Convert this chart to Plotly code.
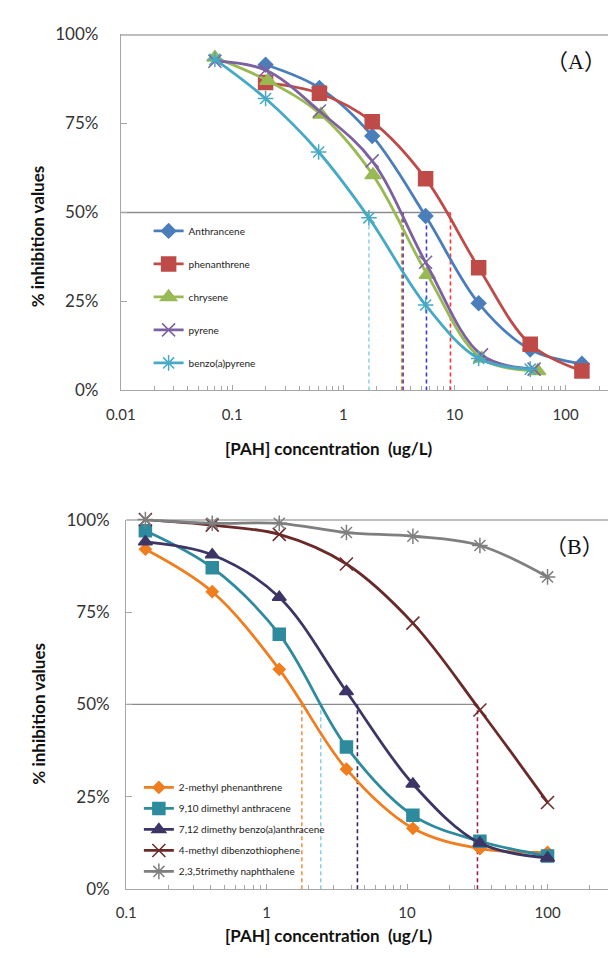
import plotly.graph_objects as go

# ---------------- data: panel A ----------------
names_a = ["Anthrancene", "phenanthrene", "chrysene", "pyrene", "benzo(a)pyrene"]
anth_x = [0.2, 0.61, 1.82, 5.5, 16.5, 48, 140]
anth_y = [91.5, 85, 71.5, 49, 24.5, 11.5, 7.5]
phen_x = [0.2, 0.61, 1.82, 5.5, 16.5, 48, 140]
phen_y = [86.5, 83.5, 75.5, 59.5, 34.5, 13, 5.5]
chry_x = [0.07, 0.21, 0.63, 1.85, 5.7, 17.5, 56]
chry_y = [93.5, 87, 77.5, 60.5, 32.5, 9, 5.5]
pyr_x = [0.07, 0.2, 0.61, 1.82, 5.5, 17.5, 52]
pyr_y = [92.5, 90, 78.5, 64.5, 36, 10, 6]
bap_x = [0.07, 0.2, 0.6, 1.7, 5.5, 16.5, 48]
bap_y = [93, 82, 67, 48.5, 24, 9, 6]
ic50_a = [5.6, 9.2, 3.35, 3.45, 1.7]

# ---------------- data: panel B ----------------
names_b = ["2-methyl phenanthrene", "9,10 dimethyl anthracene",
           "7,12 dimethy benzo(a)anthracene", "4-methyl dibenzothiophene",
           "2,3,5trimethy naphthalene"]
conc_b = [0.137, 0.41, 1.23, 3.7, 11, 33, 100]
mphen_y = [92, 80.5, 59.5, 32.5, 16.5, 11, 10]
dma_y = [97, 87, 69, 38.5, 20, 13, 9]
dmba_y = [94, 90.5, 79, 53.5, 28.5, 12.5, 8.5]
mdbt_y = [100, 98.5, 96, 88, 72, 48.5, 23.5]
tmn_y = [100, 99, 99, 96.5, 95.5, 93, 84.5]
ic50_b = [1.78, 2.43, 4.43, 31.7]

y_ticks = [0, 25, 50, 75, 100]
x_ticks_a = [0.01, 0.1, 1, 10, 100]
x_ticks_b = [0.1, 1, 10, 100]

W, H = 608, 958

def px_x(p):
    return p / W

def px_y(p):
    return (H - p) / H

fig = go.Figure()

# ---- reference lines panel A ----
dash_cols_a = ["#3B3BD0", "#FF3535", "#B0A030", "#7030A0", "#93D3E8"]
fig.add_trace(go.Scatter(x=[0.01, max(ic50_a)], y=[50, 50], mode="lines",
                         line=dict(color="#8C8C8C", width=1.3), showlegend=False,
                         xaxis="x", yaxis="y", hoverinfo="skip"))
for v, c in zip(ic50_a, dash_cols_a):
    fig.add_trace(go.Scatter(x=[v, v], y=[0, 50], mode="lines",
                             line=dict(color=c, width=1.6, dash="4px,3px"),
                             showlegend=False, xaxis="x", yaxis="y", hoverinfo="skip"))

cols_a = ["#4A7EBB", "#BE4B48", "#98B954", "#7D60A0", "#46AAC5"]
sym_a = ["diamond", "square", "triangle-up", "x-thin-open", "asterisk-open"]
size_a = [11, 14, 14, 13, 13]
xs_a = [anth_x, phen_x, chry_x, pyr_x, bap_x]
ys_a = [anth_y, phen_y, chry_y, pyr_y, bap_y]
for i in range(5):
    fig.add_trace(go.Scatter(
        x=xs_a[i], y=ys_a[i], name=names_a[i], mode="lines+markers",
        line=dict(color=cols_a[i], width=2.8, shape="spline", smoothing=1.0),
        marker=dict(symbol=sym_a[i], size=size_a[i], color=cols_a[i],
                    line=dict(color=cols_a[i], width=1.5)),
        xaxis="x", yaxis="y", legend="legend", legendgroup="a%d" % i,
        cliponaxis=False))

# ---- reference lines panel B ----
dash_cols_b = ["#F79646", "#8FD0E6", "#3F1F5F", "#9B2040"]
fig.add_trace(go.Scatter(x=[0.1, max(ic50_b)], y=[50, 50], mode="lines",
                         line=dict(color="#8C8C8C", width=1.3), showlegend=False,
                         xaxis="x2", yaxis="y2", hoverinfo="skip"))
for v, c in zip(ic50_b, dash_cols_b):
    fig.add_trace(go.Scatter(x=[v, v], y=[0, 50], mode="lines",
                             line=dict(color=c, width=1.6, dash="4px,3px"),
                             showlegend=False, xaxis="x2", yaxis="y2", hoverinfo="skip"))

cols_b = ["#F07D1E", "#2E8B9E", "#3D3566", "#6B2A2A", "#7F7F7F"]
sym_b = ["diamond", "square", "triangle-up", "x-thin-open", "asterisk-open"]
size_b = [9, 12, 12, 13, 13]
ys_b = [mphen_y, dma_y, dmba_y, mdbt_y, tmn_y]
for i in range(5):
    fig.add_trace(go.Scatter(
        x=conc_b, y=ys_b[i], name=names_b[i], mode="lines+markers",
        line=dict(color=cols_b[i], width=2.8, shape="spline", smoothing=1.0),
        marker=dict(symbol=sym_b[i], size=size_b[i], color=cols_b[i],
                    line=dict(color=cols_b[i], width=1.5)),
        xaxis="x2", yaxis="y2", legend="legend2", legendgroup="b%d" % i,
        cliponaxis=False))

tickfont_y = dict(family="Lato", size=17, color="#333333")
tickfont_x = dict(family="Lato", size=15, color="#333333")
axcol = "#A6A6A6"

def xaxis(domain, rng, anchor, tickvals):
    return dict(type="log", domain=domain, range=rng, anchor=anchor,
                tickmode="array", tickvals=tickvals,
                ticktext=[("%g" % v) for v in tickvals],
                ticks="inside", ticklen=5, tickcolor=axcol,
                minor=dict(ticks="inside", ticklen=4, tickcolor=axcol, dtick="D1"),
                showline=True, linecolor=axcol, linewidth=1.2,
                showgrid=False, zeroline=False, tickfont=tickfont_x,
                ticklabelstandoff=10)

def yaxis(domain, anchor, standoff):
    return dict(domain=domain, range=[0, 100], anchor=anchor,
                tickmode="array", tickvals=y_ticks,
                ticktext=["%d%%" % v for v in y_ticks],
                ticks="inside", ticklen=6, tickcolor=axcol,
                showline=True, linecolor=axcol, linewidth=1.2,
                showgrid=False, zeroline=False, tickfont=tickfont_y,
                ticklabelstandoff=standoff)

top_l, top_t, top_b = 108.6, 24, 388
bot_l, bot_t, bot_b = 114, 520, 898

def ann(text, x, y, size, family="Lato", angle=0):
    return dict(text=text, x=px_x(x), y=px_y(y), xref="paper", yref="paper",
                xanchor="center", yanchor="middle", textangle=angle,
                showarrow=False, font=dict(family=family, size=size, color="#111"))

fig.update_layout(
    width=W, height=H, margin=dict(l=0, r=0, t=0, b=0),
    paper_bgcolor="white", plot_bgcolor="white",
    xaxis=xaxis([px_x(top_l), 1], [-2, -2 + (W - top_l) / 114.0], "y", x_ticks_a),
    yaxis=yaxis([px_y(top_b), px_y(top_t)], "x", 18),
    xaxis2=xaxis([px_x(bot_l), 1], [-1, -1 + (W - bot_l) / 144.0], "y2", x_ticks_b),
    yaxis2=yaxis([px_y(bot_b), px_y(bot_t)], "x2", 12),
    legend=dict(x=px_x(137), y=px_y(210), xanchor="left", yanchor="top",
                bgcolor="rgba(0,0,0,0)", font=dict(family="Lato", size=10, color="#222"),
                tracegroupgap=14, itemwidth=30),
    legend2=dict(x=px_x(127), y=px_y(779), xanchor="left", yanchor="top",
                 bgcolor="rgba(0,0,0,0)", font=dict(family="Lato", size=10, color="#222"),
                 tracegroupgap=2, itemwidth=30),
    shapes=[
        dict(type="line", xref="x domain", yref="y", x0=0, x1=1, y0=100, y1=100,
             line=dict(color="#7F7F7F", width=2)),
        dict(type="line", xref="x2 domain", yref="y2", x0=0, x1=1, y0=100, y1=100,
             line=dict(color="#7F7F7F", width=2)),
    ],
    annotations=[
        ann("（A）", 575, 52, 22, "Liberation Serif, Noto Sans CJK SC"),
        ann("（B）", 574, 547, 22, "Liberation Serif, Noto Sans CJK SC"),
        ann("<b>% inhibition values</b>", 24, 230, 17, angle=-90),
        ann("<b>% inhibition values</b>", 24, 718, 17, angle=-90),
        ann("<b>[PAH] concentration  (ug/L)</b>", 322, 447, 17),
        ann("<b>[PAH] concentration  (ug/L)</b>", 322, 945, 17),
    ],
)

fig.write_html("out.html", config={"displayModeBar": False},
               post_script="document.body.style.margin='0px';")
